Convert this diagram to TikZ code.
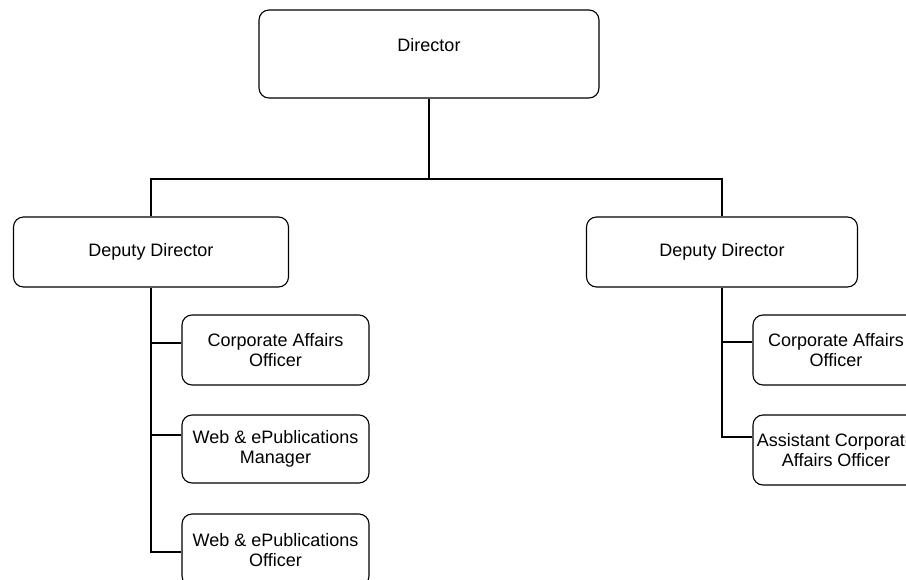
\documentclass[tikz,border=0pt]{standalone}
\usepackage{fontspec}
\setmainfont{Liberation Sans}
\begin{document}
\begin{tikzpicture}[x=1pt,y=-1pt,
  box/.style={draw=black, line width=1.1pt, rounded corners=10pt, fill=white,
    inner sep=0pt, align=center, font=\fontsize{18}{20.5}\selectfont},
  conn/.style={draw=black, line width=1.1pt}]
\useasboundingbox (0,0) rectangle (906,579);
\clip (0,0) rectangle (906,579);
\node[box, minimum width=340pt, minimum height=88pt,
  label={[yshift=9pt, font=\fontsize{18}{20.5}\selectfont]center:Director}] (dir) at (429,54) {};
\node[box, minimum width=275pt, minimum height=70pt] (dep1) at (151,252) {Deputy Director};
\node[box, minimum width=271pt, minimum height=70pt] (dep2) at (722,252) {Deputy Director};
\node[box, minimum width=187pt, minimum height=70pt] (l1) at (275.5,350) {Corporate Affairs\\Officer};
\node[box, minimum width=187pt, minimum height=68pt] (l2) at (275.5,449) {Web \& ePublications\\Manager};
\node[box, minimum width=187pt, minimum height=72pt] (l3) at (275.5,550) {Web \& ePublications\\Officer};
\node[box, minimum width=166pt, minimum height=70pt] (r1) at (836,350) {Corporate Affairs\\Officer};
\node[box, minimum width=166pt, minimum height=70pt] (r2) at (836,450) {Assistant Corporate\\Affairs Officer};
\coordinate (j) at (429,179);
\coordinate (lb1) at (l1.west |- 0,343);
\coordinate (lb2) at (l2.west |- 0,435);
\coordinate (lb3) at (l3.west |- 0,552);
\coordinate (rb1) at (r1.west |- 0,342);
\coordinate (rb2) at (r2.west |- 0,437);
\draw[conn] (dir.south) -- (j);
\draw[conn] (dep1.north) |- (j) -| (dep2.north);
\draw[conn] (dep1.south) |- (lb3);
\draw[conn] (dep1.south |- lb1) -- (lb1);
\draw[conn] (dep1.south |- lb2) -- (lb2);
\draw[conn] (dep2.south) |- (rb2);
\draw[conn] (dep2.south |- rb1) -- (rb1);
\end{tikzpicture}
\end{document}
